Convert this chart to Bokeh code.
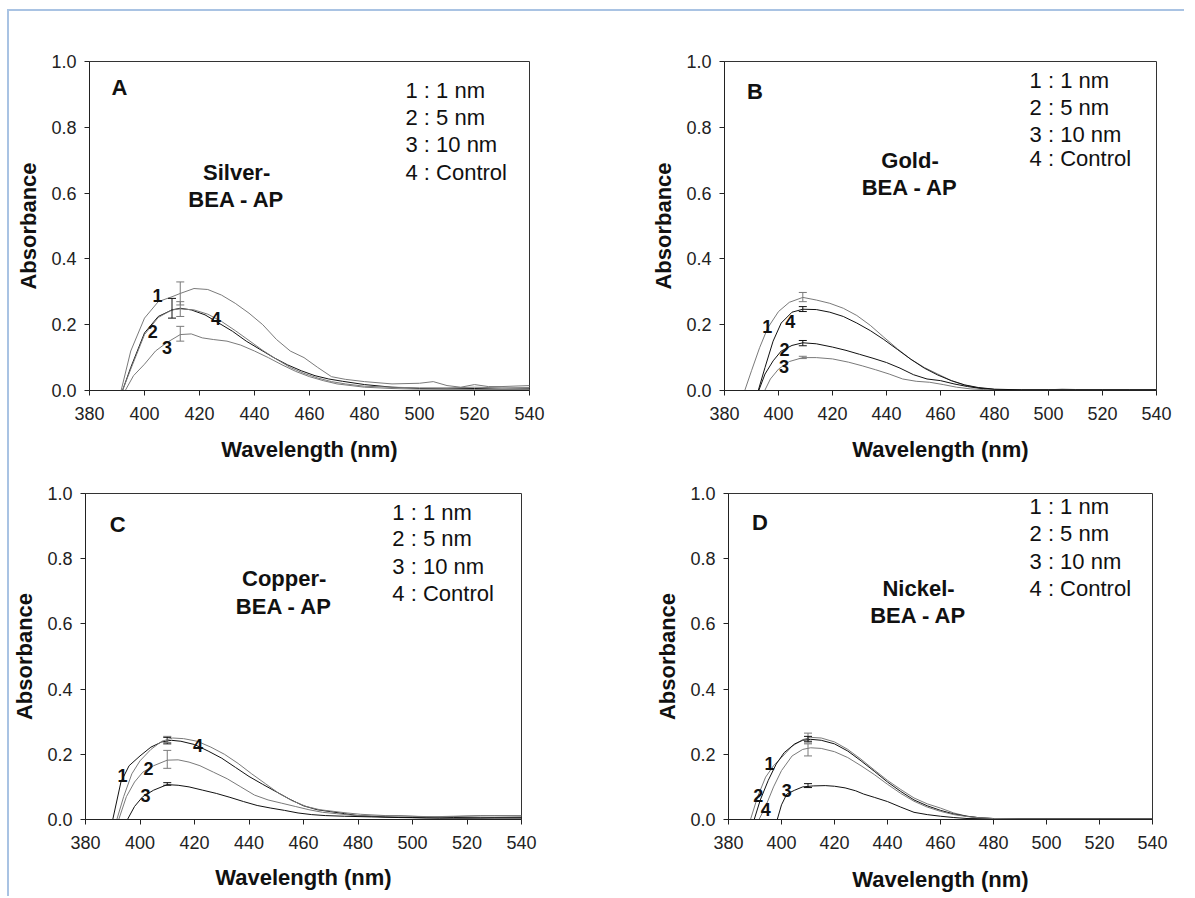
from bokeh.plotting import figure
from bokeh.layouts import row, column
from bokeh.models import Range1d, FixedTicker, PrintfTickFormatter, ColumnDataSource
from bokeh.core.properties import value
from bokeh.embed import file_html
from bokeh.resources import INLINE

FONT = "Liberation Sans"
GRAY = "#7a7a7a"
BLACK = "#111111"

x_ticks = [380, 400, 420, 440, 460, 480, 500, 520, 540]
y_ticks = [0.0, 0.2, 0.4, 0.6, 0.8, 1.0]
legend_texts = ["1 : 1 nm", "2 : 5 nm", "3 : 10 nm", "4 : Control"]
curve_labels = ["1", "2", "3", "4"]

# ---------------- Panel A : Silver ----------------
a_wl_1 = [391.5, 395, 400, 405, 410, 413, 418, 423, 428, 433, 438, 443, 448, 453, 458, 463, 468, 473, 480, 490, 500, 505, 510, 515, 520, 525, 530, 540]
a_ab_1 = [0, 0.12, 0.22, 0.27, 0.285, 0.295, 0.31, 0.307, 0.29, 0.265, 0.235, 0.2, 0.155, 0.12, 0.1, 0.07, 0.042, 0.034, 0.027, 0.02, 0.022, 0.027, 0.015, 0.01, 0.018, 0.012, 0.012, 0.015]
a_wl_2 = [392, 395, 400, 405, 410, 413, 417, 422, 427, 432, 437, 442, 447, 452, 457, 462, 467, 472, 480, 490, 500, 510, 520, 530, 540]
a_ab_2 = [0, 0.07, 0.175, 0.225, 0.245, 0.25, 0.245, 0.23, 0.205, 0.18, 0.15, 0.125, 0.1, 0.078, 0.06, 0.045, 0.035, 0.028, 0.018, 0.01, 0.006, 0.005, 0.006, 0.004, 0.005]
a_wl_3 = [393, 396, 400, 404, 408, 413, 417, 421, 425, 430, 435, 440, 445, 450, 455, 460, 465, 470, 480, 490, 500, 510, 520, 530, 540]
a_ab_3 = [0, 0.045, 0.08, 0.12, 0.145, 0.17, 0.172, 0.16, 0.155, 0.15, 0.138, 0.12, 0.1, 0.078, 0.058, 0.042, 0.03, 0.02, 0.01, 0.006, 0.004, 0.004, 0.003, 0.003, 0.003]
a_wl_4 = [392, 395, 400, 405, 410, 413, 418, 423, 428, 433, 438, 443, 448, 453, 458, 463, 468, 473, 480, 490, 500, 510, 520, 530, 540]
a_ab_4 = [0, 0.065, 0.17, 0.222, 0.245, 0.248, 0.245, 0.232, 0.21, 0.182, 0.152, 0.122, 0.095, 0.07, 0.052, 0.038, 0.027, 0.02, 0.013, 0.01, 0.008, 0.008, 0.01, 0.008, 0.009]
a_err_x = [413, 410, 413, 413]
a_err_lo = [0.26, 0.22, 0.15, 0.225]
a_err_hi = [0.33, 0.28, 0.195, 0.27]

# ---------------- Panel B : Gold ----------------
b_wl_1 = [387.5, 390, 393, 396, 400, 404, 409, 414, 419, 424, 429, 434, 439, 444, 449, 454, 459, 464, 469, 474, 480, 490, 500, 505, 510, 520, 530, 540]
b_ab_1 = [0, 0.06, 0.13, 0.19, 0.24, 0.268, 0.283, 0.275, 0.265, 0.25, 0.228, 0.198, 0.162, 0.127, 0.095, 0.07, 0.05, 0.03, 0.016, 0.008, 0.003, 0.002, 0.002, 0.004, 0.003, 0.002, 0.002, 0.003]
b_wl_2 = [392.7, 395, 398, 401, 405, 409, 414, 420, 425, 430, 435, 440, 445, 450, 455, 460, 465, 470, 475, 480, 490, 500, 520, 540]
b_ab_2 = [0, 0.05, 0.09, 0.12, 0.137, 0.145, 0.142, 0.132, 0.122, 0.11, 0.098, 0.085, 0.068, 0.048, 0.035, 0.03, 0.02, 0.012, 0.006, 0.003, 0.002, 0.002, 0.002, 0.002]
b_wl_3 = [394.9, 397, 400, 404, 409, 414, 420, 426, 431, 436, 441, 446, 451, 456, 461, 466, 471, 476, 480, 490, 500, 520, 540]
b_ab_3 = [0, 0.035, 0.065, 0.088, 0.1, 0.1, 0.096, 0.086, 0.075, 0.063, 0.05, 0.035, 0.028, 0.025, 0.018, 0.01, 0.005, 0.003, 0.002, 0.002, 0.002, 0.002, 0.002]
b_wl_4 = [392.5, 395, 398, 401, 405, 409, 414, 419, 424, 429, 434, 439, 444, 449, 454, 459, 464, 469, 474, 480, 490, 500, 510, 520, 530, 540]
b_ab_4 = [0, 0.07, 0.15, 0.205, 0.238, 0.247, 0.246, 0.238, 0.225, 0.205, 0.182, 0.155, 0.125, 0.095, 0.068, 0.047, 0.03, 0.017, 0.009, 0.004, 0.002, 0.002, 0.002, 0.002, 0.002, 0.002]
b_err_x = [409, 409, 409, 409]
b_err_lo = [0.27, 0.136, 0.097, 0.24]
b_err_hi = [0.298, 0.152, 0.104, 0.255]

# ---------------- Panel C : Copper ----------------
c_wl_1 = [390, 393, 396, 400, 404, 408, 411.5, 415, 420, 425, 430, 435, 440, 445, 450, 455, 460, 465, 470, 475, 480, 490, 500, 510, 520, 530, 540]
c_ab_1 = [0, 0.115, 0.165, 0.195, 0.222, 0.238, 0.243, 0.24, 0.23, 0.21, 0.188, 0.16, 0.132, 0.108, 0.085, 0.062, 0.042, 0.03, 0.024, 0.018, 0.012, 0.008, 0.006, 0.004, 0.004, 0.005, 0.005]
c_wl_2 = [392.2, 395, 398, 401, 405, 410, 414, 418, 422, 427, 432, 437, 442, 447, 452, 457, 462, 467, 472, 478, 485, 495, 505, 515, 525, 540]
c_ab_2 = [0, 0.07, 0.115, 0.145, 0.165, 0.182, 0.183, 0.176, 0.165, 0.145, 0.125, 0.1, 0.075, 0.06, 0.05, 0.04, 0.03, 0.022, 0.018, 0.013, 0.01, 0.012, 0.008, 0.01, 0.012, 0.01]
c_wl_3 = [395.4, 398, 401, 405, 410, 414, 418, 423, 428, 433, 438, 443, 448, 453, 458, 463, 468, 475, 485, 495, 505, 515, 525, 540]
c_ab_3 = [0, 0.04, 0.07, 0.09, 0.107, 0.105, 0.1, 0.09, 0.08, 0.068, 0.055, 0.043, 0.035, 0.028, 0.02, 0.015, 0.012, 0.01, 0.008, 0.006, 0.005, 0.006, 0.005, 0.005]
c_wl_4 = [391.5, 394, 397, 400, 404, 408, 412, 416, 421, 426, 431, 436, 441, 446, 451, 456, 461, 466, 471, 476, 481, 490, 500, 510, 520, 530, 540]
c_ab_4 = [0, 0.07, 0.14, 0.18, 0.215, 0.24, 0.25, 0.248, 0.24, 0.222, 0.2, 0.172, 0.14, 0.11, 0.08, 0.057, 0.04, 0.03, 0.025, 0.02, 0.016, 0.012, 0.01, 0.008, 0.01, 0.012, 0.012]
c_err_x = [410, 410, 410, 410]
c_err_lo = [0.232, 0.157, 0.105, 0.236]
c_err_hi = [0.252, 0.212, 0.113, 0.255]

# ---------------- Panel D : Nickel ----------------
d_wl_1 = [388.3, 391, 394, 397, 400, 404, 408, 411, 415, 420, 425, 430, 435, 440, 445, 450, 455, 460, 465, 470, 475, 480, 490, 500, 510, 520, 530, 540]
d_ab_1 = [0, 0.07, 0.13, 0.165, 0.19, 0.225, 0.245, 0.252, 0.25, 0.238, 0.215, 0.185, 0.152, 0.12, 0.092, 0.066, 0.048, 0.035, 0.02, 0.01, 0.005, 0.003, 0.002, 0.002, 0.003, 0.002, 0.001, 0.001]
d_wl_2 = [389.7, 392, 395, 398, 401, 405, 408, 411, 415, 420, 425, 430, 435, 440, 445, 450, 455, 460, 465, 470, 475, 480, 490, 500, 520, 540]
d_ab_2 = [0, 0.06, 0.12, 0.17, 0.205, 0.232, 0.243, 0.246, 0.243, 0.232, 0.21, 0.18, 0.148, 0.115, 0.086, 0.06, 0.042, 0.028, 0.017, 0.01, 0.005, 0.003, 0.002, 0.002, 0.002, 0.002]
d_wl_3 = [398.4, 400, 402, 405, 408, 412, 416.5, 420, 424, 428, 431, 435, 440, 445, 450, 455, 460, 465, 470, 480, 500, 520, 540]
d_ab_3 = [0, 0.045, 0.078, 0.09, 0.1, 0.103, 0.104, 0.102, 0.097, 0.088, 0.078, 0.068, 0.055, 0.038, 0.022, 0.015, 0.01, 0.006, 0.003, 0.002, 0.002, 0.002, 0.002]
d_wl_4 = [391.5, 394, 397, 400, 404, 408, 411, 415, 420, 425, 430, 435, 440, 445, 450, 455, 460, 465, 470, 475, 480, 490, 500, 520, 540]
d_ab_4 = [0, 0.04, 0.1, 0.15, 0.195, 0.215, 0.22, 0.218, 0.208, 0.19, 0.165, 0.138, 0.108, 0.08, 0.056, 0.038, 0.025, 0.015, 0.009, 0.005, 0.003, 0.002, 0.002, 0.002, 0.002]
d_err_x = [410, 410, 410, 410]
d_err_lo = [0.235, 0.24, 0.098, 0.195]
d_err_hi = [0.265, 0.255, 0.11, 0.232]

panels = [
    dict(letter="A", title=["Silver-", "BEA - AP"],
         series=[(a_wl_1, a_ab_1), (a_wl_2, a_ab_2), (a_wl_3, a_ab_3), (a_wl_4, a_ab_4)],
         colors=[GRAY, BLACK, GRAY, GRAY],
         err=(a_err_x, a_err_lo, a_err_hi),
         lab_x=[404.7, 403.0, 408.2, 426.0], lab_y=[0.29, 0.18, 0.13, 0.22],
         letter_xy=(390.9, 0.922), title_x=433.5, title_y=[0.663, 0.581],
         leg_x=494.9, leg_y=[0.913, 0.831, 0.747, 0.663],
         w=585, h=460, bl=80, br=65, bt=50, bb=78, xstand=14),
    dict(letter="B", title=["Gold-", "BEA - AP"],
         series=[(b_wl_1, b_ab_1), (b_wl_2, b_ab_2), (b_wl_3, b_ab_3), (b_wl_4, b_ab_4)],
         colors=[GRAY, BLACK, GRAY, BLACK],
         err=(b_err_x, b_err_lo, b_err_hi),
         lab_x=[395.8, 402.2, 402.0, 404.4], lab_y=[0.196, 0.126, 0.072, 0.211],
         letter_xy=(391.3, 0.91), title_x=448.7, title_y=[0.699, 0.617],
         leg_x=493.0, leg_y=[0.943, 0.861, 0.777, 0.705],
         w=590, h=460, bl=130, br=28, bt=47, bb=81, xstand=14),
    dict(letter="C", title=["Copper-", "BEA - AP"],
         series=[(c_wl_1, c_ab_1), (c_wl_2, c_ab_2), (c_wl_3, c_ab_3), (c_wl_4, c_ab_4)],
         colors=[BLACK, GRAY, BLACK, GRAY],
         err=(c_err_x, c_err_lo, c_err_hi),
         lab_x=[393.6, 403.1, 402.0, 421.3], lab_y=[0.136, 0.156, 0.075, 0.226],
         letter_xy=(391.8, 0.904), title_x=452.9, title_y=[0.738, 0.654],
         leg_x=492.6, leg_y=[0.943, 0.861, 0.777, 0.693],
         w=585, h=425, bl=73, br=73, bt=22, bb=71, xstand=13),
    dict(letter="D", title=["Nickel-", "BEA - AP"],
         series=[(d_wl_1, d_ab_1), (d_wl_2, d_ab_2), (d_wl_3, d_ab_3), (d_wl_4, d_ab_4)],
         colors=[GRAY, BLACK, BLACK, GRAY],
         err=(d_err_x, d_err_lo, d_err_hi),
         lab_x=[395.5, 391.2, 402.0, 394.1], lab_y=[0.173, 0.075, 0.088, 0.032],
         letter_xy=(391.9, 0.912), title_x=451.7, title_y=[0.71, 0.625],
         leg_x=493.6, leg_y=[0.961, 0.876, 0.792, 0.71],
         w=590, h=425, bl=134, br=32, bt=17, bb=77, xstand=15),
]


def make_panel(cfg):
    p = figure(width=cfg["w"], height=cfg["h"],
               x_range=Range1d(380, 540), y_range=Range1d(0, 1.0),
               output_backend="svg", toolbar_location=None,
               min_border_left=cfg["bl"], min_border_right=cfg["br"],
               min_border_top=cfg["bt"], min_border_bottom=cfg["bb"],
               background_fill_color="white", border_fill_color="white")
    p.xgrid.visible = False
    p.ygrid.visible = False
    p.outline_line_color = "#333333"
    p.outline_line_width = 1

    p.xaxis.ticker = FixedTicker(ticks=x_ticks)
    p.yaxis.ticker = FixedTicker(ticks=y_ticks)
    p.yaxis.formatter = PrintfTickFormatter(format="%.1f")
    for ax in (p.xaxis, p.yaxis):
        ax.axis_line_color = "#222222"
        ax.major_tick_line_color = "#222222"
        ax.minor_tick_line_color = None
        ax.major_tick_in = 0
        ax.major_tick_out = 5
        ax.major_label_text_font = FONT
        ax.major_label_text_font_size = "18px"
        ax.major_label_text_color = "#222222"
        ax.axis_label_text_font = FONT
        ax.axis_label_text_font_style = "bold"
        ax.axis_label_text_font_size = "22px"
        ax.axis_label_text_color = "#111111"
    p.xaxis.major_label_standoff = 11
    p.yaxis.major_label_standoff = 8
    p.xaxis.axis_label = "Wavelength (nm)"
    p.yaxis.axis_label = "Absorbance"
    p.xaxis.axis_label_standoff = cfg["xstand"]
    p.yaxis.axis_label_standoff = 7

    for (wl, ab), col in zip(cfg["series"], cfg["colors"]):
        p.line(wl, ab, line_color=col, line_width=1)

    ex, elo, ehi = cfg["err"]
    esrc = ColumnDataSource(dict(x=ex, lo=elo, hi=ehi, c=cfg["colors"]))
    p.segment(x0="x", y0="lo", x1="x", y1="hi", line_color="c", line_width=1, source=esrc)
    p.scatter(x="x", y="lo", marker="dash", size=8, line_color="c", source=esrc)
    p.scatter(x="x", y="hi", marker="dash", size=8, line_color="c", source=esrc)

    lsrc = ColumnDataSource(dict(x=cfg["lab_x"], y=cfg["lab_y"], t=curve_labels))
    p.text(x="x", y="y", text="t", source=lsrc, text_font=value(FONT),
           text_font_style="bold", text_font_size="18px", text_color="#111111",
           text_align="center", text_baseline="middle")

    p.text(x=[cfg["letter_xy"][0]], y=[cfg["letter_xy"][1]], text=[cfg["letter"]],
           text_font=value(FONT), text_font_style="bold", text_font_size="22px",
           text_color="#111111", text_align="center", text_baseline="middle")

    p.text(x=[cfg["title_x"]] * 2, y=cfg["title_y"], text=cfg["title"],
           text_font=value(FONT), text_font_style="bold", text_font_size="22px",
           text_color="#111111", text_align="center", text_baseline="middle")

    p.text(x=[cfg["leg_x"]] * 4, y=cfg["leg_y"], text=legend_texts,
           text_font=value(FONT), text_font_size="22px",
           text_color="#111111", text_align="left", text_baseline="middle")
    return p


figs = [make_panel(c) for c in panels]
layout = column(row(figs[0], figs[1]), row(figs[2], figs[3]),
                styles={"margin-top": "9px", "margin-left": "7px",
                        "border-top": "2px solid #a9c3e3", "border-left": "2px solid #a9c3e3"})

open("out.html", "w").write(file_html(layout, INLINE))
